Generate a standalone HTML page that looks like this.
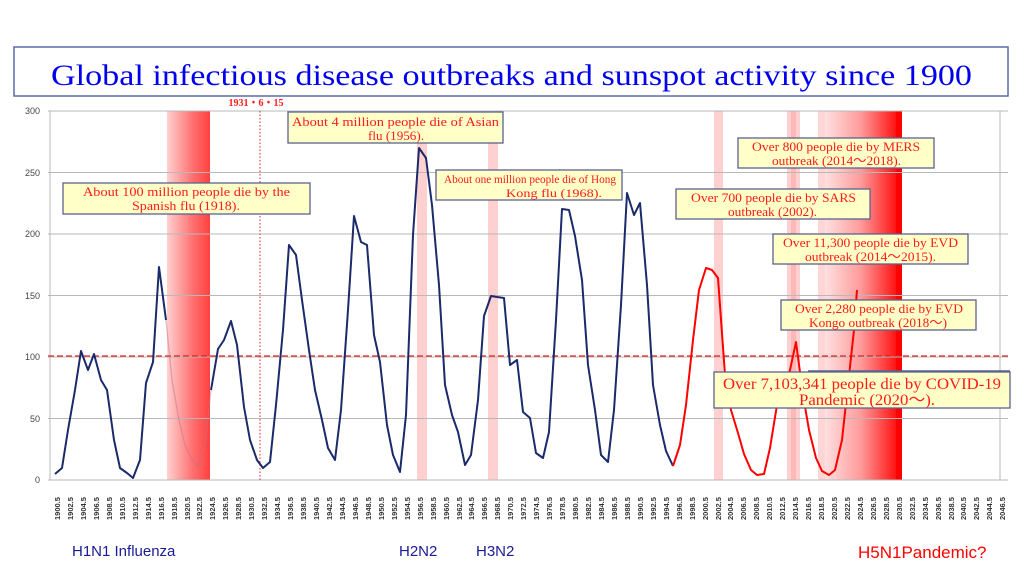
<!DOCTYPE html>
<html><head><meta charset="utf-8"><style>
html,body{margin:0;padding:0;background:#fff;width:1024px;height:576px;overflow:hidden}
svg{display:block}
.bx{fill:#ffffc8;stroke:#5a6290;stroke-width:1.3}
.bt{font-family:"Liberation Serif",serif;font-size:13px;fill:#ff1a1a}
.xl{font-family:"Liberation Sans",sans-serif;font-size:7.5px;fill:#333;font-weight:bold}
.yl{font-family:"Liberation Sans",sans-serif;font-size:9px;fill:#444;text-anchor:end}
</style></head><body>
<svg width="1024" height="576" viewBox="0 0 1024 576" xmlns="http://www.w3.org/2000/svg">
<defs>
<linearGradient id="g1" x1="0" x2="1" y1="0" y2="0"><stop offset="0" stop-color="#ffd0d0"/><stop offset="0.6" stop-color="#ff7070"/><stop offset="1" stop-color="#ff4040"/></linearGradient>
<linearGradient id="g2" x1="0" x2="1" y1="0" y2="0"><stop offset="0" stop-color="#ffe0e0"/><stop offset="0.5" stop-color="#ff9a9a"/><stop offset="1" stop-color="#ff1010"/></linearGradient>
</defs>
<rect x="14" y="47" width="994" height="49" fill="#fff" stroke="#5a6aa8" stroke-width="1.5"/>
<text x="51" y="85" font-family="Liberation Serif,serif" font-size="30" fill="#0000ee" textLength="921" lengthAdjust="spacingAndGlyphs">Global infectious disease outbreaks and sunspot activity since 1900</text>
<rect x="167" y="111" width="43" height="369" fill="url(#g1)"/>
<rect x="417" y="111" width="10" height="369" fill="#ffd0d0"/>
<rect x="488" y="111" width="10" height="369" fill="#ffd0d0"/>
<rect x="714" y="111" width="9" height="369" fill="#ffd0d0"/>
<rect x="787" y="111" width="13" height="369" fill="#ffd0d0"/>
<rect x="791" y="111" width="5" height="369" fill="#ffb8b8"/>
<rect x="818" y="111" width="8" height="369" fill="#ffd6d6"/>
<rect x="825" y="111" width="72" height="369" fill="url(#g2)"/>
<rect x="896" y="111" width="6" height="369" fill="#ff0000"/>
<g stroke="#b8b8b8" stroke-width="1">
<line x1="48" y1="111" x2="1008" y2="111"/><line x1="48" y1="172.5" x2="1008" y2="172.5"/><line x1="48" y1="234" x2="1008" y2="234"/><line x1="48" y1="295.5" x2="1008" y2="295.5"/><line x1="48" y1="357" x2="1008" y2="357"/><line x1="48" y1="418.5" x2="1008" y2="418.5"/><line x1="48" y1="480" x2="1008" y2="480"/>
<line x1="50" y1="111" x2="50" y2="480"/><line x1="1000" y1="111" x2="1000" y2="480"/>
</g>
<g class="yl"><text x="40" y="114">300</text><text x="40" y="176">250</text><text x="40" y="237">200</text><text x="40" y="299">150</text><text x="40" y="360">100</text><text x="40" y="422">50</text><text x="40" y="483">0</text></g>
<line x1="48" y1="356" x2="1008" y2="356" stroke="#e02020" stroke-width="1.3" stroke-dasharray="6,3"/>
<line x1="260" y1="111" x2="260" y2="480" stroke="#e02020" stroke-width="1" stroke-dasharray="1.5,2"/>
<text x="256" y="106" font-family="Liberation Serif,serif" font-size="10" font-weight="bold" fill="#ff1a1a" text-anchor="middle">1931・6・15</text>
<polyline fill="none" stroke="#1a2a6a" stroke-width="2" stroke-linejoin="round" points="55,474 62,468 68,430 75,390 81,351 88,370 94,354 101,380 107,390 114,440 120,468 127,473 133,478 140,460 146,383 153,362 159,267 166,320"/>
<polyline fill="none" stroke="#c07080" stroke-width="1.4" opacity="0.45" points="166,320 172,380 179,420 185,445 192,460 198,467 205,445 211,390"/>
<polyline fill="none" stroke="#1a2a6a" stroke-width="2" stroke-linejoin="round" points="211,390 218,349 224,340 231,321 237,345 244,407 250,440 257,460 263,468 270,462 276,405 283,330 289,245 296,255 302,300 309,350 315,390 322,420 328,448 335,460 341,410 348,310 354,216 361,242 367,245 374,335 380,362 387,425 393,455 400,472 406,415 413,235 419,148 426,158 432,205 439,285 445,385 452,415 458,432 465,465 471,455 478,400 484,316 491,296 497,297 504,298 510,365 517,360 523,412 530,418 536,453 543,458 549,432 556,320 562,209 569,210 575,236 582,280 588,365 595,410 601,455 608,462 614,410 621,305 627,193 634,215 640,203 647,285 653,385 660,425 666,451 673,466"/>
<polyline fill="none" stroke="#ff0000" stroke-width="2" stroke-linejoin="round" points="673,466 680,445 686,405 693,340 699,290 706,268 712,270 718,278 725,375 731,410 738,433 744,454 751,470 757,475 764,474 770,448 777,405 783,390 790,370 796,342 803,395 809,430 816,458 822,471 829,475 835,470 842,440 848,385 854,330 857,290"/>
<rect class="bx" x="63" y="183" width="247" height="31"/><text class="bt" x="83" y="196" textLength="207" lengthAdjust="spacingAndGlyphs">About 100 million people die by the</text><text class="bt" x="132" y="210" textLength="108" lengthAdjust="spacingAndGlyphs">Spanish flu (1918).</text>
<rect class="bx" x="288" y="112" width="215" height="31"/><text class="bt" x="292" y="126" textLength="207" lengthAdjust="spacingAndGlyphs">About 4 million people die of Asian</text><text class="bt" x="368" y="140" textLength="56" lengthAdjust="spacingAndGlyphs">flu (1956).</text>
<rect class="bx" x="436" y="170" width="186" height="30"/><text class="bt" x="444" y="183" style="font-size:12px" textLength="172" lengthAdjust="spacingAndGlyphs">About one million people die of Hong</text><text class="bt" x="506" y="197" style="font-size:12px" textLength="96" lengthAdjust="spacingAndGlyphs">Kong flu (1968).</text>
<rect class="bx" x="738" y="138" width="196" height="30"/><text class="bt" x="752" y="151" textLength="168" lengthAdjust="spacingAndGlyphs">Over 800 people die by MERS</text><text class="bt" x="772" y="165" textLength="129" lengthAdjust="spacingAndGlyphs">outbreak (2014～2018).</text>
<rect class="bx" x="676" y="189" width="194" height="30"/><text class="bt" x="691" y="202" textLength="165" lengthAdjust="spacingAndGlyphs">Over 700 people die by SARS</text><text class="bt" x="728" y="216" textLength="89" lengthAdjust="spacingAndGlyphs">outbreak (2002).</text>
<rect class="bx" x="773" y="234" width="195" height="30"/><text class="bt" x="783" y="247" textLength="175" lengthAdjust="spacingAndGlyphs">Over 11,300 people die by EVD</text><text class="bt" x="805" y="261" textLength="131" lengthAdjust="spacingAndGlyphs">outbreak (2014～2015).</text>
<rect class="bx" x="781" y="300" width="195" height="30"/><text class="bt" x="795" y="313" textLength="168" lengthAdjust="spacingAndGlyphs">Over 2,280 people die by EVD</text><text class="bt" x="809" y="327" textLength="138" lengthAdjust="spacingAndGlyphs">Kongo outbreak (2018～)</text>
<line x1="808" y1="371" x2="1010" y2="371" stroke="#5a6290" stroke-width="1.5"/>
<rect class="bx" x="714" y="372" width="296" height="36"/><text class="bt" x="723" y="389" style="font-size:16px" textLength="278" lengthAdjust="spacingAndGlyphs">Over  7,103,341 people die by COVID-19</text><text class="bt" x="799" y="405" style="font-size:16px" textLength="136" lengthAdjust="spacingAndGlyphs">Pandemic (2020～).</text>
<g class="xl">
<text transform="translate(60,520) rotate(-90)">1900.5</text><text transform="translate(73,520) rotate(-90)">1902.5</text><text transform="translate(86,520) rotate(-90)">1904.5</text><text transform="translate(99,520) rotate(-90)">1906.5</text><text transform="translate(112,520) rotate(-90)">1908.5</text><text transform="translate(125,520) rotate(-90)">1910.5</text><text transform="translate(138,520) rotate(-90)">1912.5</text><text transform="translate(151,520) rotate(-90)">1914.5</text><text transform="translate(164,520) rotate(-90)">1916.5</text><text transform="translate(177,520) rotate(-90)">1918.5</text><text transform="translate(190,520) rotate(-90)">1920.5</text><text transform="translate(202,520) rotate(-90)">1922.5</text><text transform="translate(215,520) rotate(-90)">1924.5</text><text transform="translate(228,520) rotate(-90)">1926.5</text><text transform="translate(241,520) rotate(-90)">1928.5</text><text transform="translate(254,520) rotate(-90)">1930.5</text><text transform="translate(267,520) rotate(-90)">1932.5</text><text transform="translate(280,520) rotate(-90)">1934.5</text><text transform="translate(293,520) rotate(-90)">1936.5</text><text transform="translate(306,520) rotate(-90)">1938.5</text><text transform="translate(319,520) rotate(-90)">1940.5</text><text transform="translate(332,520) rotate(-90)">1942.5</text><text transform="translate(345,520) rotate(-90)">1944.5</text><text transform="translate(358,520) rotate(-90)">1946.5</text><text transform="translate(371,520) rotate(-90)">1948.5</text><text transform="translate(384,520) rotate(-90)">1950.5</text><text transform="translate(397,520) rotate(-90)">1952.5</text><text transform="translate(410,520) rotate(-90)">1954.5</text><text transform="translate(423,520) rotate(-90)">1956.5</text><text transform="translate(436,520) rotate(-90)">1958.5</text><text transform="translate(449,520) rotate(-90)">1960.5</text><text transform="translate(462,520) rotate(-90)">1962.5</text><text transform="translate(474,520) rotate(-90)">1964.5</text><text transform="translate(487,520) rotate(-90)">1966.5</text><text transform="translate(500,520) rotate(-90)">1968.5</text><text transform="translate(513,520) rotate(-90)">1970.5</text><text transform="translate(526,520) rotate(-90)">1972.5</text><text transform="translate(539,520) rotate(-90)">1974.5</text><text transform="translate(552,520) rotate(-90)">1976.5</text><text transform="translate(565,520) rotate(-90)">1978.5</text><text transform="translate(578,520) rotate(-90)">1980.5</text><text transform="translate(591,520) rotate(-90)">1982.5</text><text transform="translate(604,520) rotate(-90)">1984.5</text><text transform="translate(617,520) rotate(-90)">1986.5</text><text transform="translate(630,520) rotate(-90)">1988.5</text><text transform="translate(643,520) rotate(-90)">1990.5</text><text transform="translate(656,520) rotate(-90)">1992.5</text><text transform="translate(669,520) rotate(-90)">1994.5</text><text transform="translate(682,520) rotate(-90)">1996.5</text><text transform="translate(695,520) rotate(-90)">1998.5</text><text transform="translate(708,520) rotate(-90)">2000.5</text><text transform="translate(721,520) rotate(-90)">2002.5</text><text transform="translate(733,520) rotate(-90)">2004.5</text><text transform="translate(746,520) rotate(-90)">2006.5</text><text transform="translate(759,520) rotate(-90)">2008.5</text><text transform="translate(772,520) rotate(-90)">2010.5</text><text transform="translate(785,520) rotate(-90)">2012.5</text><text transform="translate(798,520) rotate(-90)">2014.5</text><text transform="translate(811,520) rotate(-90)">2016.5</text><text transform="translate(824,520) rotate(-90)">2018.5</text><text transform="translate(837,520) rotate(-90)">2020.5</text><text transform="translate(850,520) rotate(-90)">2022.5</text><text transform="translate(863,520) rotate(-90)">2024.5</text><text transform="translate(876,520) rotate(-90)">2026.5</text><text transform="translate(889,520) rotate(-90)">2028.5</text><text transform="translate(902,520) rotate(-90)">2030.5</text><text transform="translate(915,520) rotate(-90)">2032.5</text><text transform="translate(928,520) rotate(-90)">2034.5</text><text transform="translate(941,520) rotate(-90)">2036.5</text><text transform="translate(954,520) rotate(-90)">2038.5</text><text transform="translate(966,520) rotate(-90)">2040.5</text><text transform="translate(979,520) rotate(-90)">2042.5</text><text transform="translate(992,520) rotate(-90)">2044.5</text><text transform="translate(1005,520) rotate(-90)">2046.5</text>
</g>
<g font-family="Liberation Sans,sans-serif" font-size="15" fill="#1a1a9a">
<text x="72" y="556">H1N1 Influenza</text><text x="399" y="556">H2N2</text><text x="476" y="556">H3N2</text>
</g>
<text x="858" y="558" font-family="Liberation Sans,sans-serif" font-size="17" fill="#ff0000">H5N1Pandemic?</text>
</svg>
</body></html>
